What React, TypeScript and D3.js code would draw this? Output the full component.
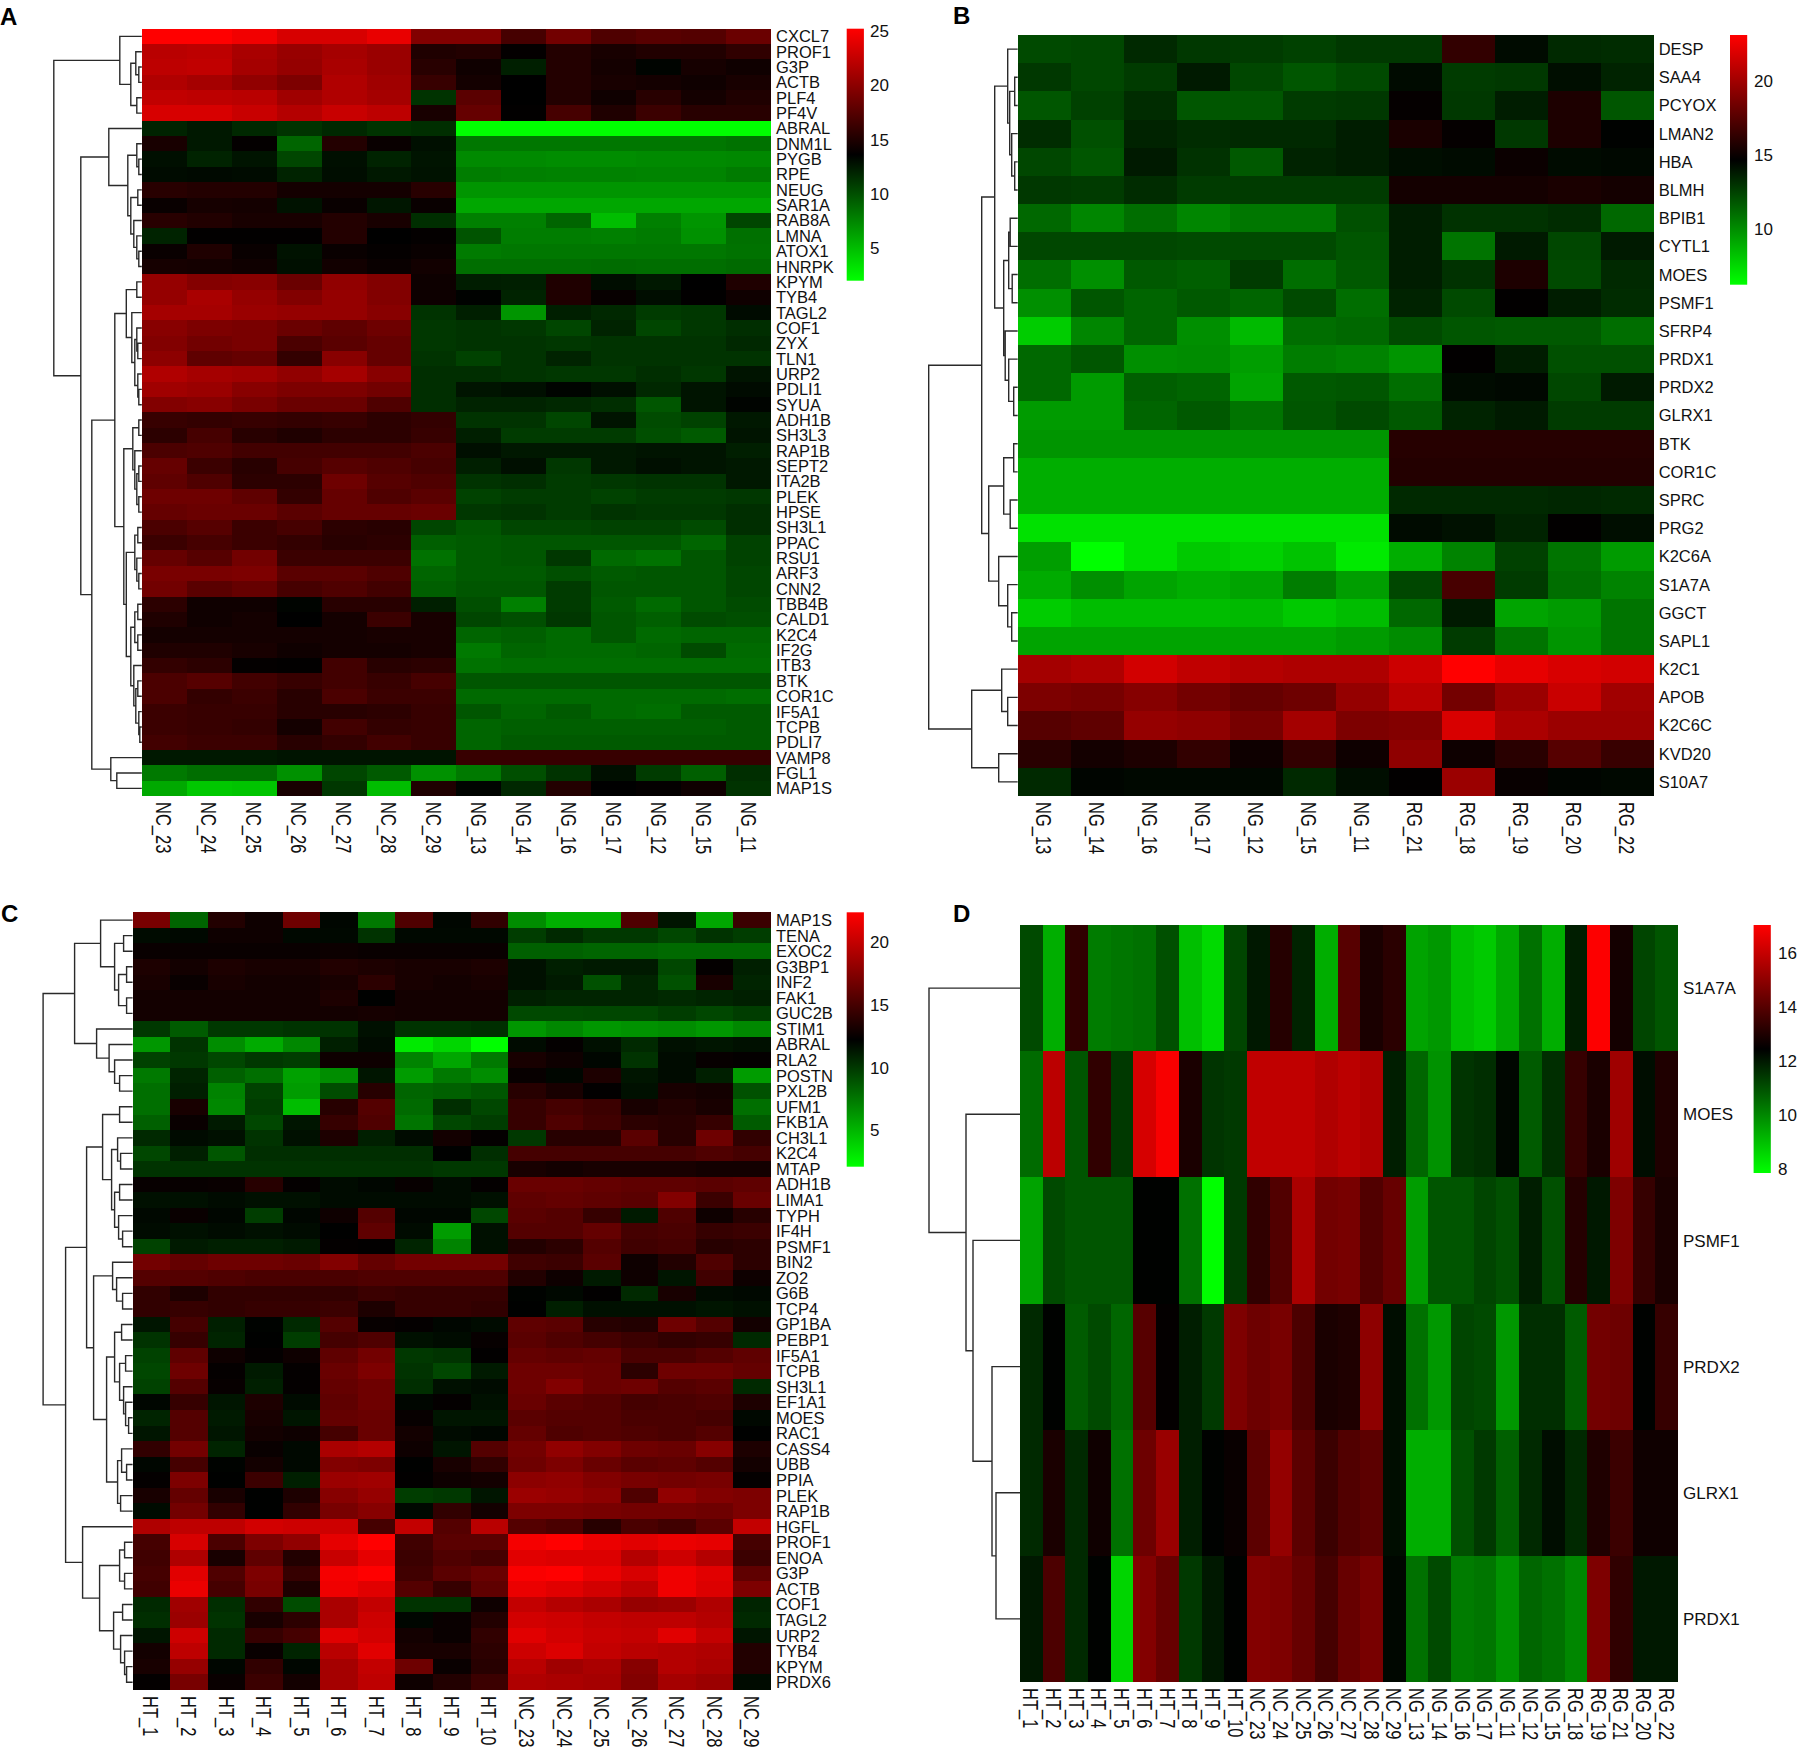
import * as d3 from "d3";

// a tree node is [merge height, left, right], a leaf is a row index
type Tree = number | [number, Tree, Tree];

const aRows = ["CXCL7","PROF1","G3P","ACTB","PLF4","PF4V","ABRAL","DNM1L","PYGB","RPE","NEUG","SAR1A","RAB8A","LMNA","ATOX1","HNRPK","KPYM","TYB4","TAGL2","COF1","ZYX","TLN1","URP2","PDLI1","SYUA","ADH1B","SH3L3","RAP1B","SEPT2","ITA2B","PLEK","HPSE","SH3L1","PPAC","RSU1","ARF3","CNN2","TBB4B","CALD1","K2C4","IF2G","ITB3","BTK","COR1C","IF5A1","TCPB","PDLI7","VAMP8","FGL1","MAP1S"];
const aCols = ["NC_23","NC_24","NC_25","NC_26","NC_27","NC_28","NC_29","NG_13","NG_14","NG_16","NG_17","NG_12","NG_15","NG_11"];
const aValues = [
  [25.2,25.2,24.6,23.4,23.4,24.2,19.5,19.5,16.8,18.8,17.2,17.6,17.4,18.4],
  [22,22.2,21.3,20.5,21.1,20.6,15,15.2,13.8,15.2,14.7,15.1,15.1,15.8],
  [22.2,22.4,21.1,20.4,21.3,20.6,15.4,14.3,12.2,15.2,14.5,13.4,14.6,14.3],
  [21.6,21.1,20.2,19.3,21.6,20.9,16.1,14.5,13.6,15.2,14.7,14.5,14.3,14.7],
  [22.4,22.2,22,20.9,21.6,21.1,11.3,17.7,13.6,15.2,14.3,15.4,14.5,15],
  [23.4,23.4,22.7,21.8,22.7,22.2,14.7,18.2,13.7,16.8,15,16.3,15.4,15.4],
  [12,12.5,11.8,11.3,11.8,11.3,11.5,2,2,2,2,2,2,2],
  [14.7,12.5,13.8,9,15.2,14,12.9,8.2,8.2,8.2,8.2,8.2,8.2,8.4],
  [12.9,12,12.7,10.4,12.9,12,12.7,7.3,7.3,7.2,7.2,7.3,7.3,7.4],
  [13.1,13.2,13.1,12,13,12.5,12.8,7.9,7.8,7.7,7.7,7.6,7.6,8],
  [15.4,15.2,15.2,14.5,14.5,14.5,15.4,6.8,6.8,6.8,6.8,6.8,6.8,6.8],
  [14,14.6,14.5,12.8,14,12.6,14,6,6,6,6,6,6,6],
  [15.4,15.1,14.7,14.7,15.2,14.7,11.5,7.8,7.8,9,5,7.8,6.8,10.4],
  [12,13.7,13.7,13.7,15.2,13.6,13.8,9.8,7.9,7.9,7.8,8,7,8.5],
  [14,15,14,12.8,14,13.8,14,8,8.2,8.2,8.2,8.2,8.2,8.4],
  [14.6,14.5,14.3,12.9,14.4,14,14.4,8.6,8.6,8.6,8.7,8.6,8.6,8.8],
  [20.4,19.6,19.8,18.4,20.2,19.5,14.2,12.3,12.2,15,13,12.5,13.6,15],
  [20.4,21.3,20.4,19.5,20.4,19.5,14.2,13.5,12,15,13.9,13,13.7,14.3],
  [21.1,21.1,20.6,20.4,20.4,19.8,11.3,12.2,6.8,12.2,11.8,10.9,11.1,13.1],
  [19.8,19.3,19.1,18.4,17.9,18.6,11.1,11.3,11.1,10.4,12,10.4,11.1,11.5],
  [19.5,18.8,19.1,17,17.7,18.2,11.1,11.3,11.3,11.1,11.3,11.3,11.3,11.8],
  [20,17.9,18.2,15.9,19.8,18.2,11.3,10.6,11.3,12,11.3,11.3,11.3,11.3],
  [21.6,21.1,20.9,20.2,21.1,19.8,11.5,11.5,11.3,11.1,11.1,11.5,11.1,12.7],
  [20.9,20.6,19.8,19.3,19.3,18.8,11.5,12.7,12.9,13.4,12.9,11.8,12.7,13.1],
  [19.5,19.8,19.1,18.4,18.4,17.2,11.5,12,12,11.8,11.5,9.7,12.7,13.4],
  [16.1,15.9,16.1,15.9,16.1,15.6,15.9,11.3,11.3,10.4,12.7,10.2,10.6,12.5],
  [15.6,16.8,15.4,15,15.6,15.6,16.1,12.2,10.9,10.9,10.9,10,9.5,12.7],
  [17,17.2,16.6,16.6,16.6,16.6,17,12.9,12.5,12.5,12.5,12.7,12.7,12.2],
  [18.2,16.3,15.4,16.8,17.5,17.2,16.8,12.2,12.9,11.1,12.5,12.9,12.7,12.5],
  [17.9,17.2,15.6,15.6,18.6,17.5,17.2,11.3,11.5,10.9,11.1,11.3,11.3,12.5],
  [18.6,18.6,17.9,15.9,18.2,17.2,17.7,10.6,10.9,10.9,10.6,10.9,10.9,11.1],
  [18.2,18.4,18.4,17.7,18.2,18.2,18.4,11.1,11.3,10.9,11.3,11.1,11.1,11.5],
  [17,17.5,16.3,16.8,15.6,15.4,10.4,9.7,10.4,10.4,10.6,10.6,10.2,11.5],
  [16.3,16.8,16.3,15.9,15.4,15.6,9.3,9.5,9.7,9.7,9.7,9.7,9,10.6],
  [18.2,17.5,18.8,16.3,16.3,16.3,8.4,9.5,9.7,11.1,8.8,8.4,9.7,10.6],
  [19.1,19.1,19.3,17.7,17.7,17.2,9,9.5,9.5,10,9.5,9.7,9.7,10.4],
  [18.8,17.7,18.2,16.8,17.2,16.6,9.3,9.7,9.7,10.9,9.7,9.7,9.7,10.4],
  [15.6,14.3,14.3,13.4,15.4,15.4,12.2,10,7.8,10.9,9.5,8.8,9.7,10.2],
  [15,14.3,14.5,13.6,14.5,16.3,14.7,10.4,10,11.1,9.7,9.3,10.2,10],
  [14.5,14.5,14.5,14.5,14.5,14.7,14.7,9,9.3,8.8,9.7,8.8,9,9],
  [15,15,14.7,14.3,14.5,14.5,14.7,8.1,9,8.8,8.8,9,10.2,8.8],
  [15.9,15.6,13.8,13.7,16.6,15.4,15.6,8.4,8.6,8.6,8.6,8.6,8.6,8.6],
  [17,17.5,16.6,16.1,16.6,16.1,16.8,9.7,9.7,9.7,9.7,9.7,9.7,9.7],
  [17,15.9,16.3,15.4,17,16.3,16.3,8.8,8.8,8.8,8.8,8.8,8.8,8.6],
  [16.3,16.1,16.1,15.4,15.4,15.6,16.1,9.7,9,9.5,8.8,8.6,9.5,9.5],
  [16.3,16.1,15.9,14.5,16.6,15.9,16.1,9,9.3,9.3,9.3,9.3,9.3,9.5],
  [16.6,16.3,16.3,15.4,15.9,16.6,16.1,9,9.5,9.5,9.5,9.5,9.5,9.5],
  [12.5,12.5,12.5,12.7,12.7,12.7,12.7,16.1,16.1,16.1,16.1,16.1,16.1,16.1],
  [8.1,8.6,8.6,7,10.4,9.5,7,8.1,10,11.3,12.9,10.9,9.3,11.5],
  [5.9,4.5,4.7,14.7,11.1,5,15,13.4,11.8,15.2,13.6,13.8,14.3,11.3],
];
const aTree: Tree = [88,
  [22, 0, [11, [6, 1, [3, 2, 3]], [5, 4, 5]]],
  [61,
    [33, 6, [14, [5, 7, [3, 8, 9]], [11, [4, 10, 11], [8, 12, [5, 13, [3, 14, 15]]]]]],
    [50,
      [27,
        [15.5, [5, 16, 17], [10, 18, [7, [5, 19, [4, 20, 21]], [4, 22, [3, 23, 24]]]]],
        [18,
          [9, [3, 25, 26], [7, 27, [5, [3, 28, 29], [3, 30, 31]]]],
          [15.5,
            [7, [4, 32, 33], [5, 34, [3, 35, 36]]],
            [11, [7, [4, 37, 38], [4, 39, 40]], [8, 41, [6, [4, 42, 43], [3, 44, [2, 45, 46]]]]],
          ],
        ],
      ],
      [31, 47, [25, 48, 49]],
    ],
  ],
];
const aTicks = [5, 10, 15, 20, 25];

const bRows = ["DESP","SAA4","PCYOX","LMAN2","HBA","BLMH","BPIB1","CYTL1","MOES","PSMF1","SFRP4","PRDX1","PRDX2","GLRX1","BTK","COR1C","SPRC","PRG2","K2C6A","S1A7A","GGCT","SAPL1","K2C1","APOB","K2C6C","KVD20","S10A7"];
const bCols = ["NG_13","NG_14","NG_16","NG_17","NG_12","NG_15","NG_11","RG_21","RG_18","RG_19","RG_20","RG_22"];
const bValues = [
  [12.2,12.3,13.3,12.8,12.7,12.5,12.8,12.8,16.3,14.3,13.3,13.2],
  [12.8,12.3,12.7,13.8,12.3,11.8,12.2,14.3,12.7,12.8,14.2,13.5],
  [11.8,12.5,13.2,11.8,11.8,12.7,12.8,14.8,12.8,13.7,15.6,11.8],
  [13.2,12,13.5,13.2,13.3,13.3,13.7,15.5,14.8,12.8,15.6,14.6],
  [12.3,11.8,13.8,13,11.7,13.5,13.7,14.2,14.3,15,14.3,14.4],
  [12.8,12.7,13.2,12.7,12.7,12.7,12.7,15.3,15.3,15.3,15.5,15.3],
  [11.2,10.2,11,10.2,10.7,10.7,12,13.7,13,13,13.2,11.2],
  [12.3,12.3,12.3,12.2,12.2,12.2,11.8,13.7,10.8,13.8,12.3,13.8],
  [11,9.9,11.7,11.5,12.7,11,11.7,13.7,13,15.6,12.2,13.3],
  [9.9,11.8,11.3,11.7,11.3,12.2,11,13.5,12.2,14.7,13.7,13.2],
  [7.9,10.2,11.3,9.9,8.5,11,11.2,12.2,11.8,11.7,11.7,11],
  [11.2,11.8,9.9,10,9.4,10.5,10.3,9.7,14.7,13.7,12,12],
  [11.2,9.5,11.5,11.3,9.2,11.7,11.8,11,14.3,14.4,12.3,13.8],
  [9.5,9.5,11.3,11.7,10.8,11.8,12.2,11.7,13.5,13.8,12.7,12.7],
  [9.7,9.7,9.7,9.7,9.7,9.7,9.7,15.9,15.9,15.9,15.9,15.9],
  [8.9,8.9,8.9,8.9,8.9,8.9,8.9,15.8,15.8,15.8,15.8,15.8],
  [8.9,8.9,8.9,8.9,8.9,8.9,8.9,13.3,13.3,13.3,13.4,13.3],
  [7.2,7.2,7.2,7.2,7.2,7.2,7.2,14.3,14.1,13.5,14.7,14.2],
  [9.4,6.2,7.2,8,7.7,8.2,6.9,8.9,10.3,12.5,10.8,9.5],
  [9,9.9,9.2,8.9,9.2,10.5,9.4,12.3,17,12.7,11,10.3],
  [7.9,8.4,8.4,8.4,8.5,8,8.4,11.2,13.8,9.2,9.5,10.8],
  [9.2,9.2,9.2,9.2,9.2,9.2,9.5,10,12.7,10.8,9.7,10.8],
  [20.1,20.4,21.6,21,20.6,20.4,20.4,21.4,23.1,22.3,21.8,21.6],
  [18.8,18.6,19.1,18.5,18,18.3,19.6,20.8,18.5,19.8,21.3,20],
  [17.5,17.8,19.6,19.4,18.6,20.1,18.8,19,21.8,20.3,19.8,19.8],
  [16,15.3,15.6,16.3,15.1,16.3,15.1,19.4,15.1,16,17.5,16.5],
  [13.3,14.5,14.4,14.4,14.4,13.3,14.2,14.7,19.8,14.9,14.5,14.4],
];
const bTree: Tree = [89,
  [36,
    [23,
      [10, 0, [8, [3, 1, 2], [6, 3, [3, 4, 5]]]],
      [14, [9, [7.5, 6, 7], [5.5, 8, 9]], [12.5, 10, [9, 11, [4, 12, 13]]]],
    ],
    [29,
      [14, [4, 14, 15], [7.5, 16, 17]],
      [19, 18, [10, 19, [6, 20, 21]]],
    ],
  ],
  [46, [16, 22, [10, 23, 24]], [19, 25, 26]],
];
const bTicks = [10, 15, 20];

const cRows = ["MAP1S","TENA","EXOC2","G3BP1","INF2","FAK1","GUC2B","STIM1","ABRAL","RLA2","POSTN","PXL2B","UFM1","FKB1A","CH3L1","K2C4","MTAP","ADH1B","LIMA1","TYPH","IF4H","PSMF1","BIN2","ZO2","G6B","TCP4","GP1BA","PEBP1","IF5A1","TCPB","SH3L1","EF1A1","MOES","RAC1","CASS4","UBB","PPIA","PLEK","RAP1B","HGFL","PROF1","ENOA","G3P","ACTB","COF1","TAGL2","URP2","TYB4","KPYM","PRDX6"];
const cCols = ["HT_1","HT_2","HT_3","HT_4","HT_5","HT_6","HT_7","HT_8","HT_9","HT_10","NC_23","NC_24","NC_25","NC_26","NC_27","NC_28","NC_29"];
const cValues = [
  [17,8.2,13.6,12.8,16.6,12,7.4,15.4,12,14.2,6.6,5.2,5.2,15.4,11.4,5.6,14.6],
  [11.8,11.9,12.8,12.8,11.9,11.9,10.2,11.9,11.9,11.9,9.8,10.6,10,10,9.4,10.2,9.8],
  [12.6,12.6,12.6,12.6,12.6,12.7,12.6,12.6,12.6,12.6,8.4,8.4,8.2,8.2,8,8,8],
  [13.4,13,13.4,13.2,13.2,13.6,13.4,13.2,13.2,13.4,11.6,11,11.2,11.2,9.4,12.4,11],
  [13.2,12.6,13.2,13,13,13.2,14,13.2,13,13.2,11.6,11.2,9,10.8,9,13.2,10.8],
  [13,13,13,13,13,13.4,12.2,13,13,13,11,10.8,10.8,10.8,10.6,10.8,11],
  [13,13,13,13,13,13,13.1,13,13,13,9.3,9.3,9.4,9.4,9.8,9.4,9.8],
  [10,8.6,10,10,10.2,10.2,11.6,10.2,10.2,10.4,6.2,6.8,6.2,6.4,6.6,6.2,6.8],
  [6.2,10.2,6.6,5.4,6.8,11,11.8,2.9,3.7,2.1,11.8,12.4,11.6,10.6,11.6,11.4,11.6],
  [9.6,10,9.4,10,9.8,12.8,12.8,7,5.6,7.4,13.2,12.8,12,10.2,11.8,12.5,12.4],
  [7.4,10.8,8.4,7.8,5.8,6.6,11.4,6,7.4,6.6,12.5,12,13.4,11.4,11.8,11,6],
  [7.8,11,7,9.6,6,9.2,13.8,8.2,8.4,8.8,13.8,13.2,12.3,11.6,13.2,13,9],
  [7.8,13.2,6.8,9.8,4.7,13.8,15.6,8,10.4,9.4,14.4,15,14.6,13.2,13.6,13.2,7.8],
  [8.4,12.6,11.2,9.4,11.4,14.4,15.4,7.6,9.4,9.8,14.4,15.4,14.8,14,13.8,14.4,8.6],
  [10.6,11.8,11.6,10.2,11.6,13.4,11,11.8,13,12.4,10,13.8,13.8,15.8,13.8,16.6,14.2],
  [9.4,11,8.8,10.4,10.4,10.4,10.4,10.4,12.2,10.4,15,15,15,15,15,15.4,15],
  [10.2,10.2,10.2,10.2,10.2,10.2,10.2,10.2,10,10,13.2,13,13.2,13.2,13.2,13,13],
  [12.5,12.5,12.6,13.8,12.4,11.8,12,12.5,11.8,12.4,16.4,16.4,16.2,16,16,15.8,16],
  [11.6,11.6,11.8,11.6,11.6,11.8,11.8,11.8,11.8,11.6,16,16.2,16,15.8,17.4,14.6,16.4],
  [11.9,12.6,12,9.8,12,12.8,15.6,12,12,9.4,15.8,15.6,14.4,11.2,15.4,12.8,13.8],
  [11.8,11.6,11.8,11.6,11.8,12.2,16,11.8,6,11.6,15.6,15.6,16.2,15,15.2,14.4,14.6],
  [9.6,11.2,11,11,11.2,12.4,12.3,10.8,7,11.6,13.6,14,15.6,14.8,15,13.8,14],
  [16.8,16.2,16.6,16.6,16.4,17.4,16.2,16.8,16.8,16.8,14.8,14.6,15.8,12.8,13.6,15.4,14],
  [15.6,15.6,15.4,15.2,15.2,15.2,15.4,15.4,15.4,15.4,13.6,12.8,11.2,12.8,11.4,14.8,12.8],
  [14.2,13.4,14.2,14.2,14.2,14.2,14.6,14.4,14.4,14.4,12.1,11.9,12.3,10.6,13.2,11.8,11.9],
  [14.2,14.4,14.2,14.4,14.4,14.6,13.4,14.4,14.4,14.2,12.2,11,11.6,11.6,11.6,11.4,11.6],
  [11.4,15,11,12.1,10.6,15.6,12.5,12.4,12,11.8,16,15.8,13.8,13.6,16.6,15.6,13],
  [10.2,14.4,10.8,12.2,9.8,15,15.4,11.6,11.8,12.5,15.8,15.4,15,14.6,14.2,14.4,10.6],
  [9.6,16,12.8,12.4,12.8,16,16.8,10,10.2,12.3,16.2,16,16.2,15.2,15.2,15.6,16],
  [9.4,16.6,12.4,11.2,12.4,16.4,17.2,10.2,9.4,11.2,16.6,16.6,16.4,14,16.6,16.6,16.2],
  [9.6,15.6,12.5,11,12.4,16.2,16.6,10.4,11.6,11.8,16.6,17.4,16.4,16.6,15.6,15.8,10.6],
  [12,14.4,11.4,13.4,11.8,16,16.6,12,12.4,11.6,16.4,15.8,15.6,15,15.2,15.4,13.4],
  [10.8,15.6,11.2,13.2,11.4,16.2,16.4,12.5,11.4,11.4,15.8,15.6,15.6,15.2,15.2,15,11.9],
  [11.4,15.6,11.4,13,12.8,15,16.4,13,11.8,12,16.2,15.4,15.6,15.4,15.2,15.6,12.2],
  [14.2,16.8,10.8,12.6,11.9,19,19.4,12.8,11.4,15.6,16.8,18,17.4,16.6,16.4,17.6,13.4],
  [12,15,12.1,13,11.9,17.4,17.2,12.2,13.2,14.2,16.6,17.2,16.4,15.8,16,15.6,13],
  [12.4,17.2,12.2,14.6,11,18.4,18.6,12.3,12.8,13,17.8,18,17.4,17,16.8,17,12.4],
  [13.2,16.2,13.2,12.2,13.4,17.6,18.2,9.8,10,11.4,18.4,18.2,17.8,15.4,18,17.4,17.2],
  [11.8,16.8,14.2,12.2,14.2,17,17.6,11.9,14.2,13,17.2,17.2,17,16.8,16.8,16.6,17.2],
  [19.2,19.8,19.8,20.6,20.4,20.4,15,20,15.6,19.6,15.6,15.2,13.8,15.2,14.8,15.8,20],
  [15,20.8,15.2,17.2,18,21.4,22.4,14.8,15.8,15.8,22,22.4,21.6,21.2,21.6,21.4,15],
  [14.8,19.2,13.2,16,13.6,20.2,21.4,14.6,15.4,15,21.2,21,21,19.4,20.4,19.4,14.6],
  [15,21.2,15.4,17.2,14.4,22,22.4,14.8,15.8,16.4,22.2,22.4,21.6,20.8,21.8,21.2,16],
  [14.8,21.6,15,17,13.4,21.8,21.2,15.6,14.4,16,21.6,21.2,20.6,19.8,21.8,21,17.2],
  [10.6,18.6,10.4,14.2,9.2,19,20,10.2,10.2,12.8,20,19.4,19,18.2,18.4,19.2,10.8],
  [10.4,18.4,10.2,13.2,14,19,20.4,12,12.6,13.6,20.6,20.4,20,19.8,19.8,19.4,10.6],
  [11.4,20.4,10.6,14.4,15,21.2,20.6,13,12.6,14.2,21.2,20.6,20.2,20,21.2,20,11.4],
  [13,19.8,10.6,12.6,10.8,19.6,21.2,13.2,13.2,14,20.4,21,20,19.6,19.4,19.2,13.6],
  [13.2,18.2,12,14.2,12,18.8,20,16.6,12.6,13.8,19.6,18.6,19,17.6,19.4,19,13.6],
  [12.4,17,12.6,14.6,13,18.8,19.8,12.8,13.6,14.6,19.2,19,18.8,17.4,18.8,18.4,11.8],
];
const cTree: Tree = [89.5,
  [58,
    [32, 0, [18, [9, 1, 2], [14, [6, 3, 4], [6, 5, 6]]]],
    [36, 7, [23.5, 8, [18, 9, [13, 10, 11]]]],
  ],
  [67,
    [46,
      [30, [13, 12, 13], [21, [15, 14, [12, 15, 16]], [18, [13, 17, 18], [14, 19, [10, 20, 21]]]]],
      [39,
        [20, 22, [16, 23, [10, 24, 25]]],
        [26,
          [18, [11, 26, 27], [13, [7, 28, 29], [9, 30, [7, 31, [4, 32, 33]]]]],
          [15, [11, 34, [6, 35, 36]], [12, 37, 38]],
        ],
      ],
    ],
    [50, 39,
      [33,
        [13, [8, 40, 41], [8, 42, 43]],
        [19, [10, 44, 45], [12, 46, [8, 47, [6, 48, 49]]]],
      ],
    ],
  ],
];
const cTicks = [5, 10, 15, 20];

const dRows = ["S1A7A","MOES","PSMF1","PRDX2","GLRX1","PRDX1"];
const dCols = ["HT_1","HT_2","HT_3","HT_4","HT_5","HT_6","HT_7","HT_8","HT_9","HT_10","NC_23","NC_24","NC_25","NC_26","NC_27","NC_28","NC_29","NG_13","NG_14","NG_16","NG_17","NG_11","NG_12","NG_15","RG_18","RG_19","RG_21","RG_20","RG_22"];
const dValues = [
  [11.1,9.3,13.3,10.2,10.3,10.4,11,9,8.5,11.2,12,13.1,11.8,9.3,14,12.9,13.2,9.5,9.7,9,8.8,9.4,10.4,9.3,11.9,17,12.8,11.2,10.9],
  [10.5,15.8,10.9,13.3,11.4,16.3,16.9,12.9,11.5,11.4,15.9,15.9,15.9,15.6,15.8,15.6,11.9,10.6,9.8,11.5,11.6,12.3,10.8,11.6,13.4,12.9,15.3,12.2,13],
  [9.5,11.1,10.9,10.9,10.9,12.4,12.4,10.4,7.84,11.4,13.3,13.9,15.5,14.5,14.6,13.9,14.3,9.6,10.9,10.9,11.2,11,11.9,11,13.1,12,14.7,13.4,12.9],
  [11.7,12.4,10.8,11.1,10.6,14,12.5,11.9,11.4,14.7,14.4,14.6,13.8,12.9,13,15,12.2,10.4,9.7,11.2,11.1,9.7,11.6,11.6,10.8,14.5,14.4,12.4,13.4],
  [11.7,12.9,11.7,12.7,10.4,14.4,15.2,11.9,12.4,12.6,14.1,15.1,14.1,13.5,13.9,14.1,12.2,9.3,9.3,11,11.4,10.7,11.7,12.2,11.7,13,13.5,12.7,12.7],
  [12,13.8,11.7,12.4,8.6,14.8,14.3,11.4,12,12.4,14.8,14.7,14.3,13.7,14.3,14.6,12.3,10.4,11.1,10.2,10.3,9.8,10.6,10.4,10,14.7,13.3,12,12],
];
const dTree: Tree = [91, 0, [54, 1, [47, 2, [28, 3, [24, 4, 5]]]]];
const dTicks = [8, 10, 12, 14, 16];

type PanelProps = {
  letter: string;
  letterX: number;
  letterY: number;
  rows: string[];
  cols: string[];
  values: number[][];
  tree: Tree;
  ticks: number[];
  extent: [number, number];
  left: number;
  right: number;
  top: number;
  bottom: number;
  barLeft: number;
  barBottom: number;
  barLabelX: number;
  labelSize: number;
};

function Panel(p: PanelProps) {
  const x = d3.scaleBand<string>().domain(p.cols).range([p.left, p.right]);
  const y = d3.scaleBand<number>().domain(d3.range(p.rows.length)).range([p.top, p.bottom]);
  const [lo, hi] = p.extent;
  const color = d3
    .scaleLinear<string>()
    .domain([lo, (lo + hi) / 2, hi])
    .range(["#00ff00", "#000000", "#ff0000"])
    .clamp(true);
  const barY = d3.scaleLinear().domain([lo, hi]).range([p.barBottom, p.top]);
  const treeX = d3.scaleLinear().domain([0, 100]).range([p.left, p.left - 100]);

  // elbow lines of the dendrogram, children first
  const path = d3.path();
  const walk = (n: Tree): [number, number] => {
    if (typeof n === "number") return [y(n)! + y.bandwidth() / 2, 0];
    const [h, a, b] = n;
    const [ya, ha] = walk(a);
    const [yb, hb] = walk(b);
    path.moveTo(treeX(ha), ya);
    path.lineTo(treeX(h), ya);
    path.lineTo(treeX(h), yb);
    path.lineTo(treeX(hb), yb);
    return [(ya + yb) / 2, h];
  };
  walk(p.tree);

  const gradId = `ramp-${p.letter}`;
  return (
    <g>
      <text x={p.letterX} y={p.letterY} fontSize={24} fontWeight="bold">
        {p.letter}
      </text>
      <path d={path.toString()} fill="none" stroke="#2a2a2a" strokeWidth={1.4} />
      <g shapeRendering="crispEdges">
        {p.values.map((row, i) =>
          row.map((v, j) => (
            <rect
              key={`${i}-${j}`}
              x={x(p.cols[j])}
              y={y(i)}
              width={x.bandwidth()}
              height={y.bandwidth()}
              fill={color(v)}
            />
          ))
        )}
      </g>
      {p.rows.map((name, i) => (
        <text
          key={name + i}
          x={p.right + 5}
          y={y(i)! + y.bandwidth() / 2}
          dy="0.36em"
          fontSize={p.labelSize}
          fill="#111"
        >
          {name}
        </text>
      ))}
      {p.cols.map((name) => (
        <text
          key={name}
          transform={`translate(${x(name)! + x.bandwidth() / 2},${p.bottom + 6}) rotate(90) scale(0.75,1)`}
          dy="0.36em"
          fontSize={22}
          fill="#111"
        >
          {name}
        </text>
      ))}
      <defs>
        <linearGradient id={gradId} x1="0" y1="1" x2="0" y2="0">
          <stop offset="0" stopColor="#00ff00" />
          <stop offset="0.5" stopColor="#000000" />
          <stop offset="1" stopColor="#ff0000" />
        </linearGradient>
      </defs>
      <rect
        x={p.barLeft}
        y={p.top}
        width={17.2}
        height={p.barBottom - p.top}
        fill={`url(#${gradId})`}
      />
      {p.ticks.map((t) => (
        <text key={t} x={p.barLabelX} y={barY(t)} dy="0.36em" fontSize={17} fill="#111">
          {t}
        </text>
      ))}
    </g>
  );
}

export default function App() {
  return (
    <svg
      width={1801}
      height={1749}
      style={{ position: "absolute", left: 0, top: 0, background: "#fff" }}
      fontFamily='"Liberation Sans", Arial, sans-serif'
    >
      <Panel letter="A" letterX={0} letterY={25} rows={aRows} cols={aCols} values={aValues} tree={aTree} ticks={aTicks}
        extent={[2, 25.2]} left={141.8} right={771} top={28.7} bottom={796} barLeft={846.7} barBottom={280.7} barLabelX={870} labelSize={16.5} />
      <Panel letter="B" letterX={953} letterY={24} rows={bRows} cols={bCols} values={bValues} tree={bTree} ticks={bTicks}
        extent={[6.2, 23.1]} left={1017.7} right={1653.7} top={35} bottom={796} barLeft={1730} barBottom={284.7} barLabelX={1754} labelSize={16.5} />
      <Panel letter="C" letterX={1} letterY={922} rows={cRows} cols={cCols} values={cValues} tree={cTree} ticks={cTicks}
        extent={[2.06, 22.4]} left={132.6} right={771} top={912.3} bottom={1690} barLeft={846.7} barBottom={1166.7} barLabelX={870} labelSize={16.5} />
      <Panel letter="D" letterX={953} letterY={922} rows={dRows} cols={dCols} values={dValues} tree={dTree} ticks={dTicks}
        extent={[7.84, 17.03]} left={1020} right={1678} top={925} bottom={1682} barLeft={1753.6} barBottom={1173} barLabelX={1778} labelSize={17} />
    </svg>
  );
}
